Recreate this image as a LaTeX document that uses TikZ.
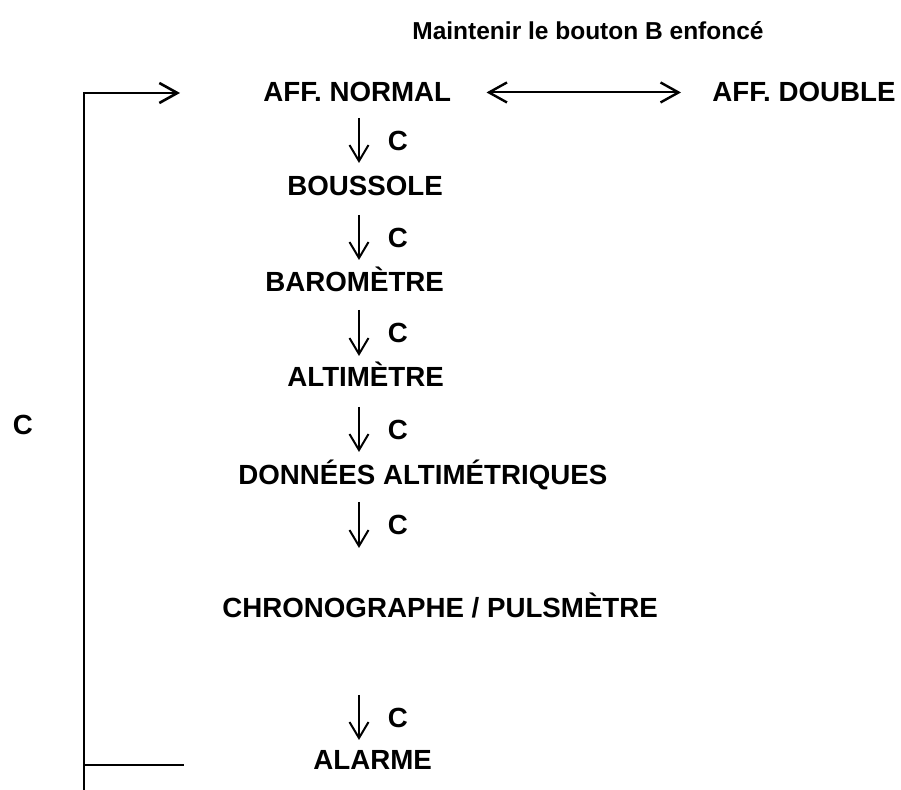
\documentclass[tikz,border=0pt]{standalone}
\usepackage{fontspec}
\setmainfont{Liberation Sans}
\usetikzlibrary{arrows.meta,positioning,calc}

\begin{document}
\begin{tikzpicture}[x=0.5pt,y=-0.5pt,
    menu/.style={font=\bfseries\fontsize{13.85}{16}\selectfont, inner sep=0pt, anchor=base west},
    tip/.style={Straight Barb[length=9pt,width=10pt,line width=1.2pt]},
    down/.style={line width=0.8pt, -{Straight Barb[length=8pt,width=9.5pt,line width=1pt]}},
    wide/.style={line width=1pt},
    clabel/.style={font=\bfseries\fontsize{13.85}{16}\selectfont, inner sep=0pt, anchor=west, xshift=14pt}]
    \useasboundingbox (0,0) rectangle (901,790);

    % Title
    \node [menu, font=\bfseries\fontsize{12.25}{14}\selectfont] (title) at (412,40) {Maintenir le bouton B enfoncé};

    % Menu entries
    \node [menu] (normal)    at (263,102) {AFF. NORMAL};
    \node [menu] (double)    at (712,102) {AFF. DOUBLE};
    \node [menu] (boussole)  at (287,196) {BOUSSOLE};
    \node [menu] (barometre) at (265,292) {BAROMÈTRE};
    \node [menu] (altimetre) at (287,387) {ALTIMÈTRE};
    \node [menu] (donnees)   at (238,485) {DONNÉES ALTIMÉTRIQUES};
    \node [menu] (chrono)    at (222,618) {CHRONOGRAPHE / PULSMÈTRE};
    \node [menu] (alarme)    at (313,770) {ALARME};

    % B button
    \draw [wide, {Straight Barb[length=9pt,width=10pt,line width=1.2pt]}-{Straight Barb[length=9pt,width=10pt,line width=1.2pt]}]
        ([xshift=17.5pt]normal.east) -- ([xshift=-15.5pt]double.west);

    % C button steps
    \coordinate (ax) at (359,0);
    \draw [down] ([yshift=-8pt]ax |- normal.base) -- ++(0,45) node [clabel, midway] {C};
    \draw [down] ([yshift=-9.5pt]ax |- boussole.base) -- ++(0,45) node [clabel, midway] {C};
    \draw [down] ([yshift=-9pt]ax |- barometre.base) -- ++(0,46) node [clabel, midway] {C};
    \draw [down] ([yshift=-10pt]ax |- altimetre.base) -- ++(0,45) node [clabel, midway] {C};
    \draw [down] ([yshift=-8.5pt]ax |- donnees.base) -- ++(0,46) node [clabel, midway] {C};
    \draw [down] ([yshift=-38.5pt]ax |- chrono.base) -- ++(0,45) node [clabel, midway] {C};

    % Loop back
    \coordinate (looptop) at (84,93);
    \coordinate (loopbot) at (84,790);
    \draw [line width=0.8pt, -{Straight Barb[length=9pt,width=10pt,line width=1.3pt]}]
        (loopbot) -- (looptop) -- ([xshift=-41.5pt]normal.west |- looptop);
    \draw [line width=0.6pt] (loopbot |- 0,765) -- ++(100,0);
    \node [menu, anchor=center] (cloop) at (23,425) {C};
\end{tikzpicture}
\end{document}
